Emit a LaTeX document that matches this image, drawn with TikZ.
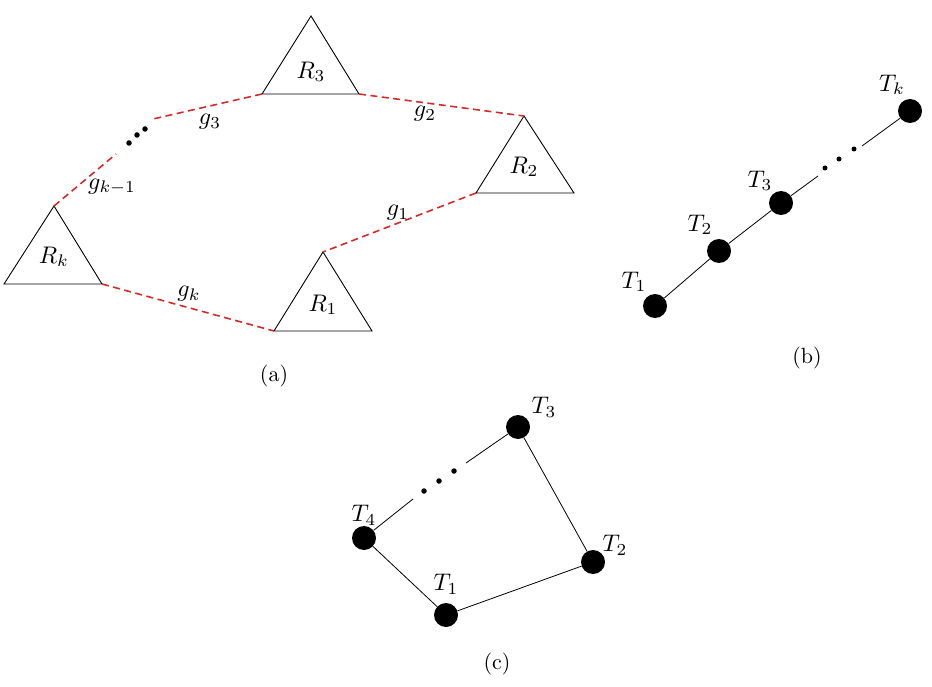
\documentclass[tikz,border=0pt]{standalone}
\usepackage{graphicx}
\definecolor{gapred}{RGB}{212,42,42}
\newcommand{\lbltxt}[1]{\scalebox{2.4}{#1}}
\newcommand{\captxt}[1]{\scalebox{2.2}{#1}}
\begin{document}
\begin{tikzpicture}[x=1pt,y=-1pt,
  tri/.style={draw=black,line width=0.9pt},
  gap/.style={draw=gapred,line width=1.6pt,dash pattern=on 7pt off 4.5pt},
  vert/.style={circle,fill=black,inner sep=0pt,minimum size=24pt},
  dotn/.style={circle,fill=black,inner sep=0pt,minimum size=5.5pt},
  linkline/.style={draw=black,line width=0.8pt},
  lbl/.style={inner sep=0pt},
  subcap/.style={inner sep=0pt}]
\useasboundingbox (0,0) rectangle (932,687);
% ---------- (a) ----------
\coordinate (R3t) at (311,16);  \coordinate (R3l) at (262,94);  \coordinate (R3r) at (359,94);
\coordinate (R2t) at (524,116); \coordinate (R2l) at (476,193); \coordinate (R2r) at (574,193);
\coordinate (Rkt) at (54,206);  \coordinate (Rkl) at (4,284);   \coordinate (Rkr) at (102,284);
\coordinate (R1t) at (323,252); \coordinate (R1l) at (274,331); \coordinate (R1r) at (372,331);
\draw[tri] (R3t) -- (R3l) -- (R3r) -- cycle;
\draw[tri] (R2t) -- (R2l) -- (R2r) -- cycle;
\draw[tri] (Rkt) -- (Rkl) -- (Rkr) -- cycle;
\draw[tri] (R1t) -- (R1l) -- (R1r) -- cycle;
\node[lbl] (lR3) at (311,72) {\lbltxt{$R_3$}};
\node[lbl] (lR2) at (524,167) {\lbltxt{$R_2$}};
\node[lbl] (lRk) at (54,257) {\lbltxt{$R_k$}};
\node[lbl] (lR1) at (323,305) {\lbltxt{$R_1$}};
\coordinate (g3e) at (153,119);
\coordinate (gke) at (116,154);
\draw[gap] (R3r) -- (R2t);
\draw[gap] (R2l) -- (R1t);
\draw[gap] (Rkr) -- (R1l);
\draw[gap] (R3l) -- (g3e);
\draw[gap] (Rkt) -- (gke);
\node[dotn] (ad1) at (129,143) {};
\node[dotn] (ad2) at (137,135) {};
\node[dotn] (ad3) at (145,129) {};
\node[lbl] (lg2) at (425,114) {\lbltxt{$g_2$}};
\node[lbl] (lg1) at (398,213) {\lbltxt{$g_1$}};
\node[lbl] (lgk) at (189,294) {\lbltxt{$g_k$}};
\node[lbl] (lg3) at (210,122) {\lbltxt{$g_3$}};
\node[lbl] (lgk1) at (112,187) {\lbltxt{$g_{k-1}$}};
\node[subcap] (ca) at (274,376) {\captxt{(a)}};
% ---------- (b) ----------
\node[vert] (T1) at (655,306) {};
\node[vert] (T2) at (719,251) {};
\node[vert] (T3) at (781,203) {};
\node[vert] (Tk) at (910,111) {};
\coordinate (bl) at (818,176);
\coordinate (br) at (862,146);
\draw[linkline] (T1) -- (T2) -- (T3) -- (bl);
\draw[linkline] (br) -- (Tk);
\node[dotn,minimum size=5pt] (bd1) at (825,168) {};
\node[dotn,minimum size=5pt] (bd2) at (839,159) {};
\node[dotn,minimum size=5pt] (bd3) at (854,149) {};
\node[lbl] (lT1) at (634,282) {\lbltxt{$T_1$}};
\node[lbl] (lT2) at (700,225) {\lbltxt{$T_2$}};
\node[lbl] (lT3) at (760,181) {\lbltxt{$T_3$}};
\node[lbl] (lTk) at (892,85) {\lbltxt{$T_k$}};
\node[subcap] (cb) at (807,358) {\captxt{(b)}};
% ---------- (c) ----------
\node[vert] (C1) at (446,615) {};
\node[vert] (C2) at (593,562) {};
\node[vert] (C3) at (518,427) {};
\node[vert] (C4) at (364,538) {};
\coordinate (cl) at (413,499);
\coordinate (cr) at (466,463);
\draw[linkline] (C4) -- (C1) -- (C2) -- (C3) -- (cr);
\draw[linkline] (C4) -- (cl);
\node[dotn] (cd1) at (424,491) {};
\node[dotn] (cd2) at (439,481) {};
\node[dotn] (cd3) at (454,471) {};
\node[lbl] (lC1) at (446,584) {\lbltxt{$T_1$}};
\node[lbl] (lC2) at (615,545) {\lbltxt{$T_2$}};
\node[lbl] (lC3) at (544,407) {\lbltxt{$T_3$}};
\node[lbl] (lC4) at (364,515) {\lbltxt{$T_4$}};
\node[subcap] (cc) at (497,664) {\captxt{(c)}};
\end{tikzpicture}
\end{document}
